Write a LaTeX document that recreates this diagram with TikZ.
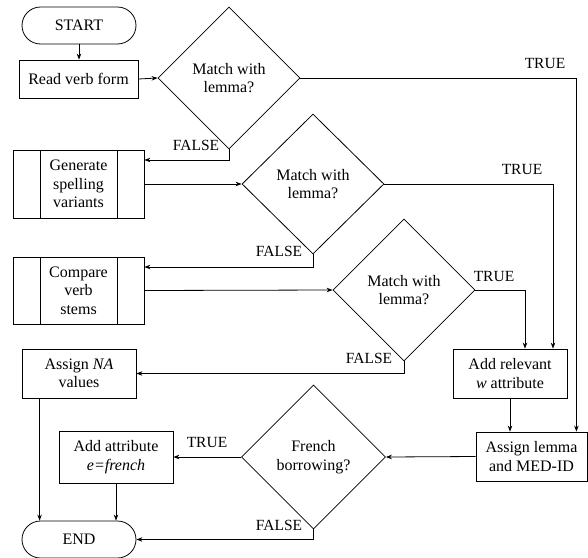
\documentclass[tikz,border=0pt]{standalone}
\usepackage{fontspec}
\setmainfont{Liberation Serif}
\usetikzlibrary{shapes.geometric,arrows.meta}
\begin{document}
\begin{tikzpicture}[x=1pt,y=-1pt,
  every node/.style={font=\fontsize{16}{18.5}\selectfont, inner sep=0pt, align=center},
  box/.style={draw, rectangle, line width=0.8pt},
  term/.style={draw, rectangle, rounded corners=18.5pt, line width=0.8pt},
  subproc/.style={box, path picture={
      \draw[line width=0.8pt] ([xshift=27pt]path picture bounding box.north west) -- ([xshift=27pt]path picture bounding box.south west);
      \draw[line width=0.8pt] ([xshift=-27pt]path picture bounding box.north east) -- ([xshift=-27pt]path picture bounding box.south east);}},
  dec/.style={draw, diamond, aspect=1, line width=0.8pt},
  lbl/.style={font=\fontsize{15.5}{18}\selectfont},
  arr/.style={line width=0.8pt, -{Stealth[length=6pt,width=4.5pt]}},
  ln/.style={line width=0.8pt}
]
\useasboundingbox (0,0) rectangle (588,557);

% nodes
\node[term, minimum width=114pt, minimum height=37pt] (start) at (79,25.5) {START};
\node[box, minimum width=119pt, minimum height=38pt] (read) at (78.5,79) {Read verb form};
\node[dec, minimum width=142pt, minimum height=142pt] (d1) at (229,78) {Match with\\lemma?};
\node[subproc, minimum width=131pt, minimum height=68pt] (gen) at (78.5,184) {Generate\\spelling\\variants};
\node[dec, minimum width=142pt, minimum height=140pt] (d2) at (313,184) {Match with\\lemma?};
\node[subproc, minimum width=131pt, minimum height=67pt] (cmp) at (78.5,290.5) {Compare\\verb\\stems};
\node[dec, minimum width=142pt, minimum height=142pt] (d3) at (404,290) {Match with\\lemma?};
\node[box, minimum width=114pt, minimum height=49pt] (na) at (79,373.5) {Assign \textit{NA}\\values};
\node[box, minimum width=114pt, minimum height=49pt] (rel) at (510,373.5) {Add relevant\\\textit{w} attribute};
\node[box, minimum width=111pt, minimum height=49pt] (lem) at (531.5,456.5) {Assign lemma\\and MED-ID};
\node[dec, minimum width=144pt, minimum height=144pt] (d4) at (313.5,457) {French\\borrowing?};
\node[box, minimum width=114pt, minimum height=52pt] (attr) at (116,457) {Add attribute\\\textit{e=french}};
\node[term, minimum width=114pt, minimum height=37pt] (end) at (79,539.5) {END};

% labels
\node[lbl] (t1) at (545,63) {TRUE};
\node[lbl] (t2) at (522,169) {TRUE};
\node[lbl] (t3) at (494,276) {TRUE};
\node[lbl] (t4) at (207,442) {TRUE};
\node[lbl] (f1) at (196,145) {FALSE};
\node[lbl] (f2) at (279,251) {FALSE};
\node[lbl] (f3) at (369,358) {FALSE};
\node[lbl] (f4) at (279,525) {FALSE};

% connectors
\draw[arr] (start.south) -- (start.south |- read.north);
\draw[arr] (read.east) -- (d1.west);
\draw[arr] (d1.east) -| ([xshift=-11pt]lem.north east);
\draw[arr] (d1.south) |- ([yshift=24pt]gen.east);
\draw[arr] (gen.east) -- (d2.west);
\draw[arr] (d2.east) -| ([xshift=43pt]rel.north);
\draw[arr] (d2.south) |- ([yshift=23.5pt]cmp.east);
\draw[arr] (cmp.east) -- (d3.west);
\draw[arr] (d3.east) -| ([xshift=15pt]rel.north);
\draw[arr] (d3.south) |- (na.east);
\draw[arr] (rel.south) -- (rel.south |- lem.north);
\draw[arr] (lem.west) -- (d4.east);
\draw[arr] (d4.west) -- (attr.east);
\draw[arr] (d4.south) |- (end.east);
\draw[arr] ([xshift=18pt]na.south west) -- ([xshift=18pt]na.south west |- end.north);
\draw[arr] (attr.south) -- (attr.south |- end.north);
\end{tikzpicture}
\end{document}
